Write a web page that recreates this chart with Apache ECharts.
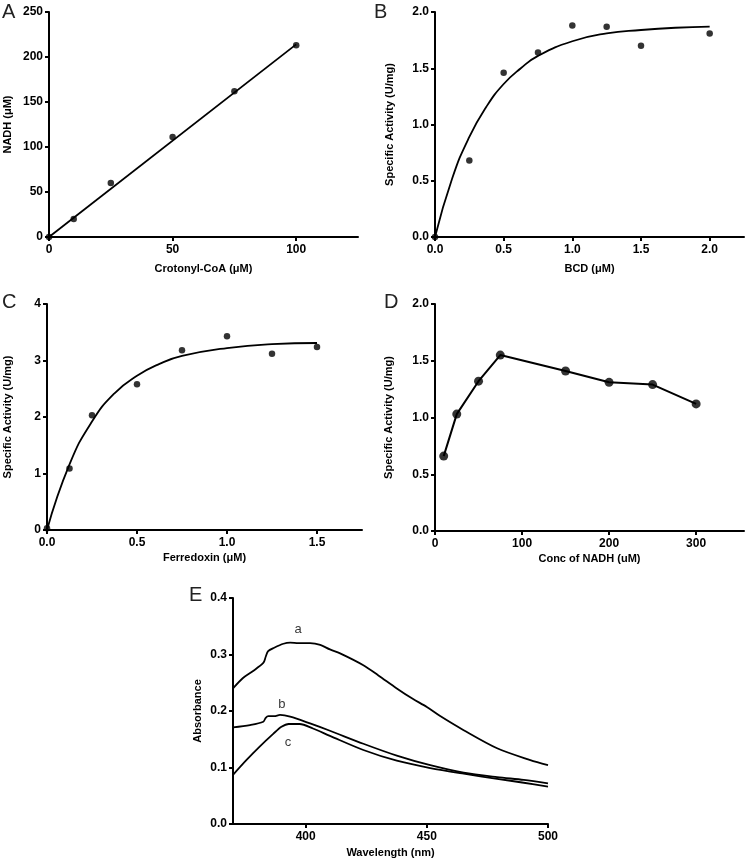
<!DOCTYPE html>
<html>
<head>
<meta charset="utf-8">
<script src="https://cdn.jsdelivr.net/npm/echarts@6/dist/echarts.min.js"></script>
<style>
html,body{margin:0;padding:0;background:#fff;}
#c{width:745px;height:861px;}
</style>
</head>
<body>
<div id="c"></div>
<script>
// ---------- Data ----------
// Panel A
const aX = [0, 10, 25, 50, 75, 100];
const aY = [0, 20, 60, 111, 162, 213];
const aFitX = [0, 100];
const aFitY = [0, 214];
const aXTicks = [0, 50, 100];
const aYTicks = [0, 50, 100, 150, 200, 250];

// Panel B
const bX = [0, 0.25, 0.5, 0.75, 1.0, 1.25, 1.5, 2.0];
const bY = [0, 0.68, 1.46, 1.64, 1.88, 1.87, 1.70, 1.81];
const bFitX = [0, 0.125, 0.25, 0.375, 0.5, 0.625, 0.75, 1.0, 1.25, 1.5, 1.75, 2.0];
const bFitY = [0, 0.52, 0.89, 1.16, 1.36, 1.50, 1.61, 1.74, 1.81, 1.84, 1.86, 1.87];
const bXTicks = [0, 0.5, 1.0, 1.5, 2.0];
const bYTicks = [0, 0.5, 1.0, 1.5, 2.0];

// Panel C
const cX = [0, 0.125, 0.25, 0.5, 0.75, 1.0, 1.25, 1.5];
const cY = [0.03, 1.09, 2.03, 2.58, 3.18, 3.43, 3.12, 3.24];
const cFitX = [0, 0.125, 0.25, 0.375, 0.5, 0.625, 0.75, 1.0, 1.25, 1.5];
const cFitY = [0, 1.16, 1.92, 2.42, 2.73, 2.94, 3.08, 3.22, 3.29, 3.31];
const cXTicks = [0, 0.5, 1.0, 1.5];
const cYTicks = [0, 1, 2, 3, 4];

// Panel D
const dX = [10, 25, 50, 75, 150, 200, 250, 300];
const dY = [0.66, 1.03, 1.32, 1.55, 1.41, 1.31, 1.29, 1.12];
const dXTicks = [0, 100, 200, 300];
const dYTicks = [0, 0.5, 1.0, 1.5, 2.0];

// Panel E (spectra)
const eAX = [370, 374, 378, 382.5, 383.5, 384.5, 387, 390.8, 393.6, 397, 401.8, 406, 410, 414.2, 423.8, 430, 437.6, 444, 450, 455.5, 465.2, 479, 492.7, 500];
const eAY = [0.240, 0.258, 0.270, 0.285, 0.296, 0.306, 0.312, 0.319, 0.321, 0.320, 0.320, 0.317, 0.309, 0.302, 0.281, 0.263, 0.240, 0.222, 0.207, 0.191, 0.166, 0.134, 0.113, 0.104];
const eBX = [370, 377, 382.5, 383.5, 384.6, 387, 389.4, 393.6, 401.8, 410, 423.8, 437.6, 451.4, 465.2, 479, 490, 500];
const eBY = [0.171, 0.175, 0.181, 0.188, 0.191, 0.191, 0.193, 0.190, 0.178, 0.165, 0.142, 0.121, 0.104, 0.091, 0.083, 0.078, 0.072];
const eCX = [370, 375.5, 381, 386.7, 390, 393, 397.5, 403, 410, 423.8, 437.6, 451.4, 465.2, 479, 490, 500];
const eCY = [0.087, 0.113, 0.137, 0.160, 0.172, 0.177, 0.177, 0.169, 0.156, 0.131, 0.112, 0.099, 0.089, 0.080, 0.073, 0.066];
const eLabelNames = ['a', 'b', 'c'];
const eLabelX = [396.9, 390.2, 392.7];
const eLabelY = [0.345, 0.212, 0.145];
const eXTicks = [400, 450, 500];
const eYTicks = [0, 0.1, 0.2, 0.3, 0.4];

// ---------- Chart ----------
const FONT = '"Liberation Sans", Arial, sans-serif';
const pairs = (xs, ys) => xs.map((x, i) => [x, ys[i]]);

function xAx(idx, min, max, ticks, name, gap, dec) {
  return {
    type: 'value', gridIndex: idx, min: min, max: max,
    name: name, nameLocation: 'middle', nameGap: gap,
    nameTextStyle: {fontFamily: FONT, fontWeight: 'bold', fontSize: 11, color: '#000'},
    axisLine: {show: true, onZero: false, lineStyle: {color: '#000', width: 2}},
    axisTick: {show: true, inside: false, length: 4, lineStyle: {color: '#000', width: 2}, customValues: ticks},
    axisLabel: {fontFamily: FONT, fontWeight: 'bold', fontSize: 12, color: '#000', margin: 7,
      customValues: ticks, formatter: v => v.toFixed(dec)},
    splitLine: {show: false}
  };
}
function yAx(idx, min, max, ticks, name, gap, dec) {
  return {
    type: 'value', gridIndex: idx, min: min, max: max,
    name: name, nameLocation: 'middle', nameGap: gap,
    nameTextStyle: {fontFamily: FONT, fontWeight: 'bold', fontSize: 11, color: '#000'},
    axisLine: {show: true, onZero: false, lineStyle: {color: '#000', width: 2}},
    axisTick: {show: true, inside: false, length: 4, lineStyle: {color: '#000', width: 2}, customValues: ticks},
    axisLabel: {fontFamily: FONT, fontWeight: 'bold', fontSize: 12, color: '#000', margin: 6,
      customValues: ticks, formatter: v => v.toFixed(dec)},
    splitLine: {show: false}
  };
}
function dots(idx, xs, ys, size) {
  return {type: 'scatter', xAxisIndex: idx, yAxisIndex: idx, data: pairs(xs, ys),
    symbol: 'circle', symbolSize: size, itemStyle: {color: '#000'}, clip: false, z: 3};
}
function curve(idx, xs, ys, smooth) {
  return {type: 'line', xAxisIndex: idx, yAxisIndex: idx, data: pairs(xs, ys),
    showSymbol: false, symbol: 'none', smooth: smooth, lineStyle: {color: '#000', width: 1.8}, clip: false, z: 2};
}

const gridOpt = {outerBoundsMode: 'none', containLabel: false};
const option = {
  animation: false,
  backgroundColor: '#fff',
  grid: [
    Object.assign({left: 49, top: 12, width: 309, height: 225}, gridOpt),
    Object.assign({left: 435, top: 12, width: 309, height: 225}, gridOpt),
    Object.assign({left: 47, top: 304, width: 315, height: 226}, gridOpt),
    Object.assign({left: 435, top: 304, width: 309, height: 227}, gridOpt),
    Object.assign({left: 233, top: 598, width: 315, height: 226}, gridOpt)
  ],
  xAxis: [
    xAx(0, 0, 125, aXTicks, 'Crotonyl-CoA (\u03bcM)', 26, 0),
    xAx(1, 0, 2.25, bXTicks, 'BCD (\u03bcM)', 26, 1),
    xAx(2, 0, 1.75, cXTicks, 'Ferredoxin (\u03bcM)', 22, 1),
    xAx(3, 0, 355, dXTicks, 'Conc of NADH (uM)', 22, 0),
    xAx(4, 370, 500, eXTicks, 'Wavelength (nm)', 23, 0)
  ],
  yAxis: [
    yAx(0, 0, 250, aYTicks, 'NADH (\u03bcM)', 36, 0),
    yAx(1, 0, 2, bYTicks, 'Specific Activity (U/mg)', 40, 1),
    yAx(2, 0, 4, cYTicks, 'Specific Activity (U/mg)', 34, 0),
    yAx(3, 0, 2, dYTicks, 'Specific Activity (U/mg)', 41, 1),
    yAx(4, 0, 0.4, eYTicks, 'Absorbance', 30, 1)
  ],
  series: [
    curve(0, aFitX, aFitY, false),
    dots(0, aX, aY, 6.5),
    curve(1, bFitX, bFitY, true),
    dots(1, bX, bY, 6.5),
    curve(2, cFitX, cFitY, true),
    dots(2, cX, cY, 6.5),
    Object.assign(curve(3, dX, dY, false), {lineStyle: {color: '#000', width: 2}}),
    dots(3, dX, dY, 9),
    curve(4, eAX, eAY, 0.3),
    curve(4, eBX, eBY, 0.3),
    curve(4, eCX, eCY, 0.3),
    {type: 'scatter', xAxisIndex: 4, yAxisIndex: 4, symbolSize: 0, clip: false,
      data: eLabelNames.map((n, i) => ({value: [eLabelX[i], eLabelY[i]], name: n})),
      label: {show: true, position: 'inside', formatter: p => p.name, fontFamily: FONT, fontSize: 13, color: '#000'},
      itemStyle: {color: 'transparent'}}
  ],
  graphic: [
    {type: 'text', left: 2, top: 2, style: {text: 'A', fontFamily: FONT, fontSize: 20, fill: '#222'}},
    {type: 'text', left: 374, top: 2, style: {text: 'B', fontFamily: FONT, fontSize: 20, fill: '#222'}},
    {type: 'text', left: 2, top: 292, style: {text: 'C', fontFamily: FONT, fontSize: 20, fill: '#222'}},
    {type: 'text', left: 384, top: 292, style: {text: 'D', fontFamily: FONT, fontSize: 20, fill: '#222'}},
    {type: 'text', left: 189, top: 585, style: {text: 'E', fontFamily: FONT, fontSize: 20, fill: '#222'}}
  ]
};
const chart = echarts.init(document.getElementById('c'), null, {renderer: 'canvas'});
chart.setOption(option);
</script>
</body>
</html>
